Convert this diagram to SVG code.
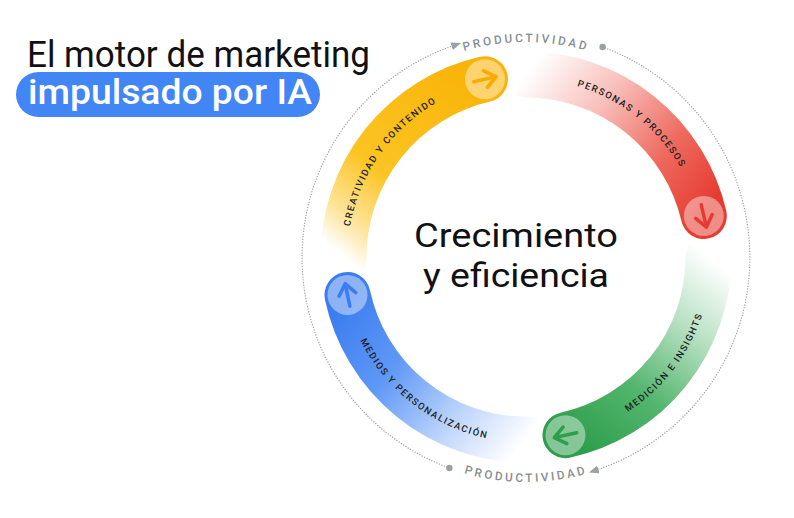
<svg xmlns="http://www.w3.org/2000/svg" width="794" height="518" viewBox="0 0 794 518">
<style>
.lbl{font-family:Roboto,"Liberation Sans",sans-serif;font-size:9.4px;font-weight:500;letter-spacing:1.55px;fill:#202124}
.prod{font-family:Roboto,"Liberation Sans",sans-serif;font-size:11.8px;font-weight:500;letter-spacing:2.7px;fill:#8a8d91}
.band{fill:none;stroke-width:46;stroke-linecap:round}
.knob{fill:#fff;fill-opacity:0.42}
.arr{fill:none;stroke-width:3.5;stroke-linecap:round;stroke-linejoin:round}
.dots{fill:none;stroke:#9aa0a6;stroke-width:1.3;stroke-linecap:round;stroke-dasharray:0.1 2.6}
.big{font-family:Roboto,"Liberation Sans",sans-serif;fill:#111}
</style>
<defs>
<linearGradient id="gY" gradientUnits="userSpaceOnUse" x1="343.5" y1="257" x2="484.95" y2="79.18">
<stop offset="0" stop-color="#FBBC04" stop-opacity="0"/>
<stop offset="0.15" stop-color="#FBBC04" stop-opacity="0.4"/>
<stop offset="0.4" stop-color="#FBBC04" stop-opacity="0.88"/>
<stop offset="1" stop-color="#FAB308" stop-opacity="1"/>
</linearGradient>
<linearGradient id="gR" gradientUnits="userSpaceOnUse" x1="526" y1="74.5" x2="703.82" y2="215.95">
<stop offset="0" stop-color="#EA4335" stop-opacity="0"/>
<stop offset="0.35" stop-color="#EA4335" stop-opacity="0.35"/>
<stop offset="0.7" stop-color="#EA4335" stop-opacity="0.8"/>
<stop offset="1" stop-color="#E53B30" stop-opacity="1"/>
</linearGradient>
<linearGradient id="gG" gradientUnits="userSpaceOnUse" x1="708.5" y1="257" x2="565.5" y2="435.17">
<stop offset="0" stop-color="#34A853" stop-opacity="0"/>
<stop offset="0.3" stop-color="#34A853" stop-opacity="0.35"/>
<stop offset="0.65" stop-color="#34A853" stop-opacity="0.85"/>
<stop offset="1" stop-color="#2E9E4C" stop-opacity="1"/>
</linearGradient>
<linearGradient id="gB" gradientUnits="userSpaceOnUse" x1="526" y1="439.5" x2="347.49" y2="294.94">
<stop offset="0" stop-color="#4285F4" stop-opacity="0"/>
<stop offset="0.3" stop-color="#4285F4" stop-opacity="0.35"/>
<stop offset="0.65" stop-color="#4285F4" stop-opacity="0.85"/>
<stop offset="1" stop-color="#3B7DF0" stop-opacity="1"/>
</linearGradient>
<marker id="tri" markerUnits="userSpaceOnUse" markerWidth="12" markerHeight="10" refX="2" refY="4" orient="auto">
<path d="M0,0 L10,4 L0,8 Z" fill="#9aa0a6"/>
</marker>
<g id="arrowShape">
<path d="M-11.5,0 L11.5,0 M0.5,-8.5 L11.5,0 L0.5,8.5"/>
</g>
<path id="pY" d="M353.58,303.20 A178.5,178.5 0 0 1 510.44,79.18"/>
<path id="pR" d="M490.11,82.14 A178.5,178.5 0 0 1 704.43,252.02"/>
<path id="pG" d="M534.74,442.29 A185.5,185.5 0 0 0 706.96,216.22"/>
<path id="pB" d="M340.66,264.77 A185.5,185.5 0 0 0 565.83,438.17"/>
<path id="pTop" d="M323.50,183.79 A215.5,215.5 0 0 1 728.50,183.79"/>
<path id="pBot" d="M315.04,334.28 A224.5,224.5 0 0 0 736.96,334.28"/>
</defs>
<rect width="794" height="518" fill="#fff"/>

<g id="title">
<text class="big" x="27" y="67" font-size="37" textLength="343" lengthAdjust="spacingAndGlyphs">El motor de marketing</text>
</g>
<g id="pill">
<rect x="16" y="72" width="304" height="45" rx="22.5" fill="#4285F4"/>
<text x="28" y="104" font-family="Roboto,'Liberation Sans',sans-serif" font-size="35" font-weight="500" fill="#fff" textLength="284" lengthAdjust="spacingAndGlyphs">impulsado por IA</text>
</g>

<g id="connectors">
<path class="dots" d="M602.61,47.01 A224,224 0 0 1 596.5,470.0" marker-end="url(#tri)"/>
<path class="dots" d="M449.39,467.99 A224,224 0 0 1 453.5,45.6" marker-end="url(#tri)"/>
<circle cx="602.61" cy="47.01" r="3.2" fill="#9aa0a6"/>
<circle cx="449.39" cy="467.99" r="3.2" fill="#9aa0a6"/>
</g>

<g id="productivity-labels">
<text class="prod"><textPath href="#pTop" startOffset="50%" text-anchor="middle">PRODUCTIVIDAD</textPath></text>
<text class="prod"><textPath href="#pBot" startOffset="50%" text-anchor="middle">PRODUCTIVIDAD</textPath></text>
</g>

<g id="node-creatividad">
<path class="band" stroke="url(#gY)" d="M343.5,257 A182.5,182.5 0 0 1 484.95,79.18"/>
<circle class="knob" cx="484.95" cy="79.18" r="20"/>
<use href="#arrowShape" class="arr" stroke="#F9AB00" transform="translate(484.95,79.18) rotate(-13)"/>
<text class="lbl"><textPath href="#pY" startOffset="50%" text-anchor="middle">CREATIVIDAD Y CONTENIDO</textPath></text>
</g>

<g id="node-personas">
<path class="band" stroke="url(#gR)" d="M526,74.5 A182.5,182.5 0 0 1 703.82,215.95"/>
<circle class="knob" cx="703.82" cy="215.95" r="20"/>
<use href="#arrowShape" class="arr" stroke="#E53B30" transform="translate(703.82,215.95) rotate(77)"/>
<text class="lbl"><textPath href="#pR" startOffset="50%" text-anchor="middle">PERSONAS Y PROCESOS</textPath></text>
</g>

<g id="node-medicion">
<path class="band" stroke="url(#gG)" d="M708.5,257 A182.5,182.5 0 0 1 565.5,435.17"/>
<circle class="knob" cx="565.5" cy="435.17" r="20"/>
<use href="#arrowShape" class="arr" stroke="#2E9E4C" transform="translate(565.5,435.17) rotate(167.5)"/>
<text class="lbl"><textPath href="#pG" startOffset="50%" text-anchor="middle">MEDICIÓN E INSIGHTS</textPath></text>
</g>

<g id="node-medios">
<path class="band" stroke="url(#gB)" d="M526,439.5 A182.5,182.5 0 0 1 347.49,294.94"/>
<circle class="knob" cx="347.49" cy="294.94" r="20"/>
<use href="#arrowShape" class="arr" stroke="#3B7DF0" transform="translate(347.49,294.94) rotate(258)"/>
<text class="lbl"><textPath href="#pB" startOffset="50%" text-anchor="middle">MEDIOS Y PERSONALIZACIÓN</textPath></text>
</g>

<g id="center">
<text class="big" x="516" y="247" font-size="32.5" text-anchor="middle" textLength="204" lengthAdjust="spacingAndGlyphs">Crecimiento</text>
<text class="big" x="516" y="287" font-size="32.5" text-anchor="middle" textLength="186" lengthAdjust="spacingAndGlyphs">y eficiencia</text>
</g>
</svg>
